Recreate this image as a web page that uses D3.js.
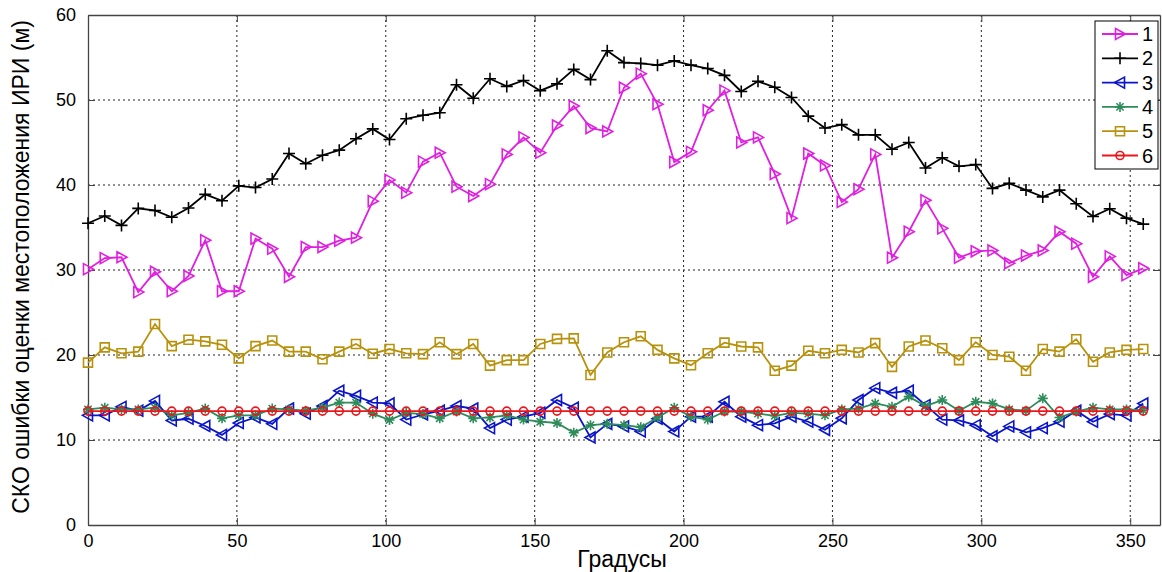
<!DOCTYPE html>
<html><head><meta charset="utf-8">
<script src="https://cdn.jsdelivr.net/npm/d3@7"></script>
<style>body{margin:0;background:#fff}svg{display:block}text{font-family:"Liberation Sans",Arial,sans-serif}</style>
</head><body><svg id="c" width="1162" height="572"></svg>
<script>
const degrees=[0,5.625,11.25,16.875,22.5,28.125,33.75,39.375,45,50.625,56.25,61.875,67.5,73.125,78.75,84.375,90,95.625,101.25,106.875,112.5,118.125,123.75,129.375,135,140.625,146.25,151.875,157.5,163.125,168.75,174.375,180,185.625,191.25,196.875,202.5,208.125,213.75,219.375,225,230.625,236.25,241.875,247.5,253.125,258.75,264.375,270,275.625,281.25,286.875,292.5,298.125,303.75,309.375,315,320.625,326.25,331.875,337.5,343.125,348.75,354.375];
const series1=[30.1,31.4,31.5,27.4,29.8,27.5,29.3,33.5,27.5,27.5,33.7,32.5,29.2,32.7,32.7,33.45,33.8,38.1,40.6,39.1,42.75,43.8,39.8,38.7,40.1,43.6,45.6,43.8,47.0,49.3,46.7,46.3,51.45,53.1,49.5,42.7,43.9,48.8,51.1,45.0,45.6,41.3,36.1,43.7,42.3,38.0,39.5,43.6,31.45,34.5,38.2,34.9,31.45,32.2,32.3,30.8,31.7,32.3,34.5,33.1,29.2,31.6,29.4,30.2];
const series2=[35.5,36.35,35.25,37.25,37.0,36.2,37.3,38.9,38.15,39.9,39.7,40.7,43.7,42.5,43.5,44.1,45.45,46.6,45.35,47.8,48.2,48.5,51.8,50.2,52.5,51.6,52.3,51.1,51.9,53.6,52.4,55.8,54.4,54.3,54.1,54.6,54.1,53.7,52.9,51.0,52.2,51.5,50.3,48.1,46.7,47.1,45.9,45.9,44.2,45.0,42.0,43.2,42.2,42.4,39.6,40.2,39.4,38.6,39.4,37.8,36.3,37.2,36.1,35.4];
const series3=[12.9,12.9,13.9,13.45,14.6,12.3,12.5,11.65,10.6,12.0,12.65,11.9,13.7,13.1,14.0,15.8,15.2,14.4,14.3,12.4,13.0,13.45,14.0,13.7,11.4,12.4,12.75,13.2,14.7,13.8,10.3,11.9,11.6,11.0,12.5,11.0,12.75,12.75,14.5,12.75,11.75,11.95,12.75,12.15,11.2,12.55,14.7,16.1,15.55,15.8,14.1,12.4,12.3,11.75,10.45,11.6,10.9,11.4,12.15,13.45,12.15,13.05,12.9,14.3];
const series4=[13.6,13.8,13.6,13.6,13.8,12.9,13.2,13.7,12.55,12.9,12.9,13.7,13.6,13.45,13.8,14.4,14.4,13.1,12.35,13.2,13.05,12.55,13.35,12.55,12.65,12.9,12.4,12.15,12.0,10.85,11.75,11.9,11.75,11.5,12.65,13.8,12.75,12.4,13.35,13.35,13.1,12.85,13.2,13.1,12.9,13.6,13.7,14.3,13.9,15.1,14.0,14.7,13.45,14.5,14.3,13.6,13.45,14.9,12.65,13.35,13.8,13.6,13.6,13.5];
const series5=[19.1,20.9,20.2,20.4,23.65,21.05,21.8,21.6,21.2,19.6,21.05,21.7,20.4,20.4,19.5,20.4,21.3,20.15,20.7,20.2,20.1,21.5,20.1,21.3,18.75,19.4,19.4,21.3,21.9,21.95,17.65,20.3,21.5,22.2,20.6,19.6,18.8,20.2,21.45,21.0,20.9,18.15,18.75,20.5,20.2,20.6,20.3,21.4,18.6,21.0,21.7,20.8,19.4,21.5,20.0,19.8,18.15,20.7,20.4,21.85,19.2,20.3,20.6,20.7];
const series6=[13.4,13.4,13.4,13.4,13.4,13.4,13.4,13.4,13.4,13.4,13.4,13.4,13.4,13.4,13.4,13.4,13.4,13.4,13.4,13.4,13.4,13.4,13.4,13.4,13.4,13.4,13.4,13.4,13.4,13.4,13.4,13.4,13.4,13.4,13.4,13.4,13.4,13.4,13.4,13.4,13.4,13.4,13.4,13.4,13.4,13.4,13.4,13.4,13.4,13.4,13.4,13.4,13.4,13.4,13.4,13.4,13.4,13.4,13.4,13.4,13.4,13.4,13.4,13.4];
const seriesNames=["1","2","3","4","5","6"];
const xTicks=[0,50,100,150,200,250,300,350];
const yTicks=[0,10,20,30,40,50,60];
const xLabel="Градусы";
const yLabel="СКО ошибки оценки местоположения ИРИ (м)";

const colors=["#e01fe0","#000000","#0a14c8","#2e8b5a","#b8920c","#e8181c"];
const markers=["triR","plus","triL","star","square","circle"];
const allSeries=[series1,series2,series3,series4,series5,series6];

const svg=d3.select("#c");
const L=88,R=1160,T=15,B=525;
const x=d3.scaleLinear().domain([0,360]).range([L,R]);
const y=d3.scaleLinear().domain([0,60]).range([B,T]);

// grid
const g=svg.append("g");
g.selectAll(".vg").data(xTicks.filter(d=>d>0)).join("line")
 .attr("x1",d=>x(d)).attr("x2",d=>x(d)).attr("y1",T).attr("y2",B)
 .attr("stroke","#222").attr("stroke-width",1).attr("stroke-dasharray","2,3");
g.selectAll(".hg").data(yTicks.filter(d=>d>0&&d<60)).join("line")
 .attr("y1",d=>y(d)).attr("y2",d=>y(d)).attr("x1",L).attr("x2",R)
 .attr("stroke","#222").attr("stroke-width",1).attr("stroke-dasharray","2,3");

// axes
const xa=svg.append("g").attr("transform",`translate(0,${B})`)
 .call(d3.axisBottom(x).tickValues(xTicks).tickSizeInner(-7).tickSizeOuter(0).tickPadding(12));
const xt=svg.append("g").attr("transform",`translate(0,${T})`)
 .call(d3.axisTop(x).tickValues(xTicks).tickSizeInner(-7).tickSizeOuter(0).tickFormat(""));
const ya=svg.append("g").attr("transform",`translate(${L},0)`)
 .call(d3.axisLeft(y).tickValues(yTicks).tickSizeInner(-7).tickSizeOuter(0).tickPadding(12));
const yr=svg.append("g").attr("transform",`translate(${R},0)`)
 .call(d3.axisRight(y).tickValues(yTicks).tickSizeInner(-7).tickSizeOuter(0).tickFormat(""));
[xa,xt,ya,yr].forEach(a=>{a.select(".domain").attr("stroke","#444").attr("stroke-width",1.3);
 a.selectAll(".tick line").attr("stroke","#444");
 a.selectAll("text").attr("font-size",18).attr("fill","#000").attr("font-family","Liberation Sans, Arial, sans-serif");});
xa.selectAll("text").attr("dy","0.55em");

// markers
function markerPath(type){
 switch(type){
  case "triR": return "M-4.5,-5.5L5.5,0L-4.5,5.5Z";
  case "triL": return "M4.5,-5.5L-5.5,0L4.5,5.5Z";
  case "plus": return "M-6,0L6,0M0,-6L0,6";
  case "star": return "M-5,0L5,0M0,-5L0,5M-3.6,-3.6L3.6,3.6M-3.6,3.6L3.6,-3.6";
  case "square": return "M-4.5,-4.5H4.5V4.5H-4.5Z";
  case "circle": return "M4,0A4,4 0 1,1 -4,0A4,4 0 1,1 4,0Z";
 }
}
const line=d3.line().x((d,i)=>x(degrees[i])).y(d=>y(d));
allSeries.forEach((s,k)=>{
 const sg=svg.append("g");
 sg.append("path").datum(s).attr("d",line).attr("fill","none").attr("stroke",colors[k]).attr("stroke-width",1.8);
 sg.selectAll("path.m").data(s).join("path").attr("class","m")
  .attr("transform",(d,i)=>`translate(${x(degrees[i])},${y(d)})`)
  .attr("d",markerPath(markers[k])).attr("fill","none").attr("stroke",colors[k]).attr("stroke-width",1.6);
});

// legend
const lg=svg.append("g");
lg.append("rect").attr("x",1095).attr("y",21).attr("width",63).attr("height",148).attr("fill","#fff").attr("stroke","#000").attr("stroke-width",1);
seriesNames.forEach((n,k)=>{
 const yy=34+k*24.3;
 lg.append("line").attr("x1",1102).attr("x2",1138).attr("y1",yy).attr("y2",yy).attr("stroke",colors[k]).attr("stroke-width",1.8);
 lg.append("path").attr("transform",`translate(1120,${yy})`).attr("d",markerPath(markers[k])).attr("fill","none").attr("stroke",colors[k]).attr("stroke-width",1.6);
 lg.append("text").attr("x",1142).attr("y",yy+7).attr("font-size",20).text(n);
});

// labels
svg.append("text").attr("x",622).attr("y",567).attr("text-anchor","middle").attr("font-size",23).text(xLabel);
svg.append("text").attr("transform","translate(29,267) rotate(-90)").attr("text-anchor","middle").attr("font-size",23).text(yLabel);
</script></body></html>
